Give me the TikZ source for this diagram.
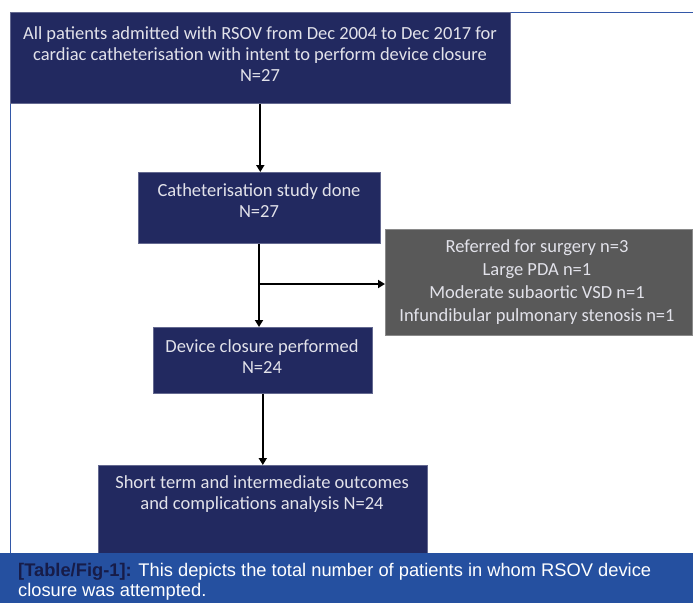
\documentclass[tikz,border=0pt]{standalone}
\usepackage{fontspec}
\setmainfont{Carlito}
\newfontfamily\capfont{Liberation Sans}
\usetikzlibrary{arrows.meta}
\definecolor{navy}{HTML}{222960}
\definecolor{greybox}{HTML}{595959}
\definecolor{greyedge}{HTML}{8A8A8A}
\definecolor{capblue}{HTML}{2550A0}
\definecolor{framblue}{HTML}{3358A8}
\definecolor{captag}{HTML}{171C48}
\definecolor{boxtxt}{HTML}{E2E2EA}
\tikzset{
  navybox/.style={draw=navy!70!white, line width=0.6pt, fill=navy, inner sep=0pt},
  greyrect/.style={draw=greyedge, line width=0.8pt, fill=greybox, inner sep=0pt},
  boxtext/.style={text=boxtxt, align=center, inner sep=0pt, font=\fontsize{18.5}{21}\selectfont},
  flow/.style={draw=black, line width=1.8pt, -{Triangle[length=7pt,width=8pt]}},
  plain/.style={draw=black, line width=1.8pt}
}
\begin{document}
\begin{tikzpicture}[x=1pt,y=-1pt]
\useasboundingbox (0,0) rectangle (693,603);
\fill[white] (0,0) rectangle (693,603);
% frame
\draw[framblue, line width=1pt] (10,553) -- (10,12) -- (693,12);
% boxes
\node[navybox, minimum width=500pt, minimum height=91pt, anchor=north west] (b1) at (10,12) {};
\node[boxtext] (t1) at (260,54) {All patients admitted with RSOV from Dec 2004 to Dec 2017 for\\cardiac catheterisation with intent to perform device closure\\N=27};
\node[navybox, minimum width=242pt, minimum height=71pt, anchor=north west] (b2) at (138,172) {};
\node[boxtext] (t2) at (259,201) {Catheterisation study done\\N=27};
\node[greyrect, minimum width=307pt, minimum height=106pt, anchor=north west] (g) at (385,229) {};
\node[boxtext, font=\fontsize{18.5}{23}\selectfont] (tg) at (537,282) {Referred for surgery n=3\\Large PDA n=1\\Moderate subaortic VSD n=1\\Infundibular pulmonary stenosis n=1};
\node[navybox, minimum width=219pt, minimum height=66pt, anchor=north west] (b3) at (153,327) {};
\node[boxtext] (t3) at (262,357) {Device closure performed\\N=24};
\node[navybox, minimum width=329pt, minimum height=100pt, anchor=north west] (b4) at (98,465) {};
\node[boxtext, anchor=north] (t4) at (262,475) {Short term and intermediate outcomes\\and complications analysis N=24};
% connectors
\coordinate (j) at (259,284);
\draw[flow] (b1.south -| b2.north) ++(1,0) coordinate (s1) -- (s1 |- b2.north);
\draw[plain] (b2.south -| j) -- (j);
\draw[flow] (j) -- (j -| g.west);
\draw[flow] (j) -- (j |- b3.north);
\draw[flow] (b3.south) -- (b4.north -| b3.south);
% caption band
\fill[capblue] (0,553) rectangle (693,603);
\node[anchor=north west, inner sep=0pt, align=left, font=\capfont\fontsize{18.3}{20}\selectfont, text=white] (cap) at (18,563)
 {{\color{captag}\bfseries [Table/Fig-1]:} This depicts the total number of patients in whom RSOV device\\closure was attempted.};
\end{tikzpicture}
\end{document}
